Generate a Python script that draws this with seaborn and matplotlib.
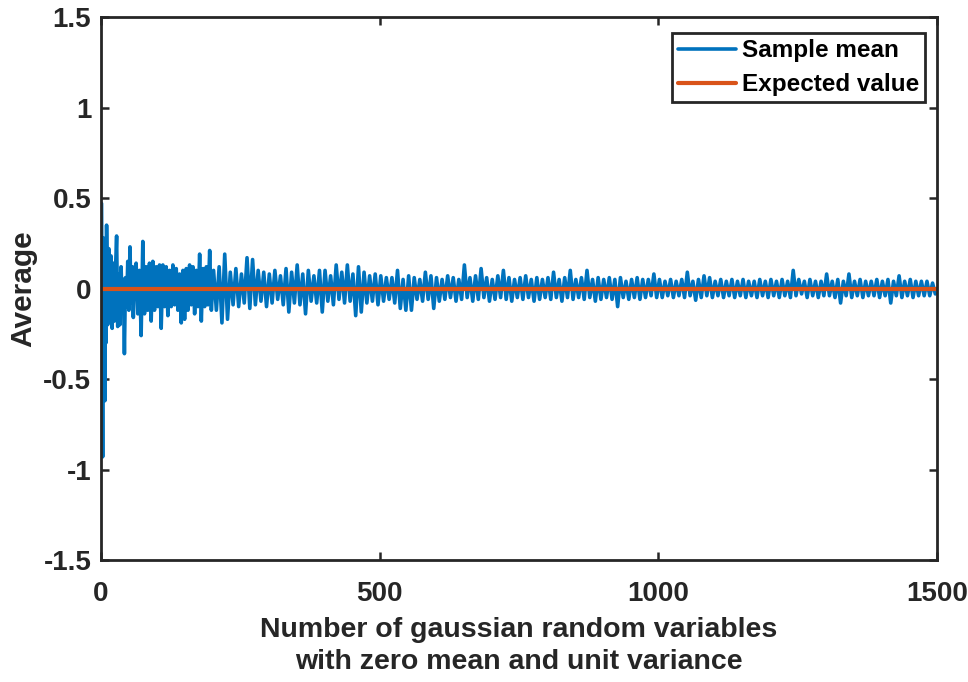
import matplotlib
import matplotlib.pyplot as plt
import numpy as np
import pandas as pd
import seaborn as sns

matplotlib.use("Agg")

# --- Datos ---
# tramo inicial: valores punto a punto
n_a = list(range(1, 11))
n_b = list(range(12, 61, 2))
mean_a = [0.47, -0.15, -0.93, 0.28, -0.55, 0.12, -0.62, 0.22, -0.30, 0.35]
mean_b = [-0.20, 0.22, -0.12, 0.18, -0.22, 0.14, -0.18, 0.10, 0.29, -0.21,
          0.08, -0.20, 0.12, -0.08, 0.05, -0.36, 0.06, -0.10, 0.15, -0.12,
          0.23, -0.08, 0.12, -0.16, 0.10]

blk_c = list(range(62, 200, 6))
top_c = [0.14, 0.10, 0.26, 0.12, 0.14, 0.15, 0.12, 0.13, 0.13, 0.12, 0.10, 0.13,
         0.11, 0.08, 0.10, 0.11, 0.13, 0.12, 0.10, 0.19, 0.11, 0.12, 0.21]
bot_c = [-0.14, -0.26, -0.14, -0.12, -0.18, -0.12, -0.10, -0.22, -0.10, -0.15,
         -0.10, -0.09, -0.12, -0.19, -0.17, -0.12, -0.09, -0.14, -0.10, -0.18,
         -0.10, -0.09, -0.12]

blk_d = list(range(200, 1500, 10))
top_d = [
    0.10, 0.12, 0.19, 0.09, 0.11, 0.08, 0.17, 0.16, 0.10, 0.09,
    0.08, 0.10, 0.07, 0.11, 0.09, 0.13, 0.08, 0.10, 0.07, 0.10,
    0.10, 0.07, 0.13, 0.09, 0.13, 0.08, 0.12, 0.09, 0.07, 0.08,
    0.07, 0.06, 0.06, 0.10, 0.05, 0.07, 0.06, 0.05, 0.09, 0.07,
    0.06, 0.05, 0.07, 0.06, 0.05, 0.13, 0.06, 0.07, 0.11, 0.06,
    0.05, 0.07, 0.10, 0.06, 0.05, 0.06, 0.07, 0.05, 0.06, 0.05,
    0.06, 0.09, 0.05, 0.06, 0.10, 0.05, 0.06, 0.10, 0.05, 0.06,
    0.05, 0.06, 0.05, 0.06, 0.04, 0.05, 0.06, 0.05, 0.05, 0.08,
    0.05, 0.04, 0.05, 0.04, 0.05, 0.09, 0.04, 0.05, 0.07, 0.06,
    0.04, 0.05, 0.04, 0.05, 0.04, 0.05, 0.04, 0.04, 0.05, 0.04,
    0.05, 0.04, 0.05, 0.04, 0.10, 0.05, 0.04, 0.05, 0.04, 0.04,
    0.08, 0.04, 0.05, 0.04, 0.08, 0.04, 0.05, 0.04, 0.04, 0.05,
    0.04, 0.05, 0.04, 0.07, 0.04, 0.05, 0.04, 0.04, 0.04, 0.03,
]
bot_d = [
    -0.12, -0.19, -0.17, -0.09, -0.10, -0.08, -0.11, -0.09, -0.07, -0.10,
    -0.08, -0.06, -0.09, -0.13, -0.08, -0.09, -0.14, -0.07, -0.08, -0.13,
    -0.07, -0.09, -0.06, -0.08, -0.07, -0.15, -0.13, -0.08, -0.07, -0.09,
    -0.07, -0.06, -0.08, -0.11, -0.12, -0.12, -0.06, -0.07, -0.06, -0.11,
    -0.07, -0.06, -0.05, -0.07, -0.06, -0.05, -0.07, -0.06, -0.05, -0.07,
    -0.06, -0.05, -0.06, -0.07, -0.05, -0.06, -0.05, -0.07, -0.06, -0.05,
    -0.06, -0.05, -0.07, -0.05, -0.06, -0.05, -0.06, -0.05, -0.07, -0.06,
    -0.05, -0.06, -0.10, -0.05, -0.06, -0.05, -0.06, -0.05, -0.04, -0.05,
    -0.05, -0.04, -0.05, -0.04, -0.05, -0.04, -0.065, -0.05, -0.04, -0.05,
    -0.04, -0.05, -0.04, -0.05, -0.04, -0.05, -0.04, -0.05, -0.04, -0.05,
    -0.04, -0.05, -0.04, -0.05, -0.04, -0.03, -0.05, -0.04, -0.05, -0.04,
    -0.04, -0.05, -0.08, -0.04, -0.05, -0.04, -0.05, -0.04, -0.04, -0.05,
    -0.04, -0.08, -0.04, -0.05, -0.04, -0.05, -0.04, -0.04, -0.04, -0.03,
]

expected_n = [1, 1500]
expected_value = [0.0, 0.0]

x_ticks = [0, 500, 1000, 1500]
y_ticks = [-1.5, -1, -0.5, 0, 0.5, 1, 1.5]
y_tick_labels = ["-1.5", "-1", "-0.5", "0", "0.5", "1", "1.5"]

BLUE = "#0072BD"
ORANGE = "#D95319"
DARK = "#262626"

sns.set_theme(style="white")
plt.rcParams.update(
    {
        "font.family": ["Liberation Sans", "DejaVu Sans"],
        "font.weight": "bold",
        "axes.labelweight": "bold",
        "axes.unicode_minus": False,
        "axes.edgecolor": DARK,
        "axes.linewidth": 2.0,
        "xtick.color": DARK,
        "ytick.color": DARK,
        "text.color": DARK,
        "axes.labelcolor": DARK,
    }
)

# maximos en el inicio del bloque, minimos a mitad de bloque
n_all = (n_a + n_b
         + [b + 1 for b in blk_c] + [b + 4 for b in blk_c]
         + [b + 2 for b in blk_d] + [b + 7 for b in blk_d])
v_all = mean_a + mean_b + top_c + bot_c + top_d + bot_d
df = pd.DataFrame({"n": n_all, "mean": v_all}).sort_values("n")

fig = plt.figure(figsize=(9.68, 6.82), dpi=100)
ax = fig.add_axes([101 / 968, 1 - 560 / 682, 836 / 968, 543 / 682])

sns.lineplot(data=df, x="n", y="mean", ax=ax, color=BLUE, linewidth=2.6,
             estimator=None, sort=True, label="Sample mean")
sns.lineplot(x=expected_n, y=expected_value, ax=ax, color=ORANGE, linewidth=3,
             estimator=None, label="Expected value")

ax.set_xlim(0, 1500)
ax.set_ylim(-1.5, 1.5)
ax.set_xticks(x_ticks)
ax.set_xticklabels([str(t) for t in x_ticks])
ax.set_yticks(y_ticks)
ax.set_yticklabels(y_tick_labels)
ax.tick_params(direction="in", length=6, width=1.8, labelsize=20,
               top=True, right=True, bottom=True, left=True)
ax.tick_params(axis="x", pad=15)
ax.tick_params(axis="y", pad=7)
for lab in ax.get_xticklabels() + ax.get_yticklabels():
    lab.set_fontweight("bold")

ax.set_xlabel("Number of gaussian random variables\nwith zero mean and unit variance",
              fontsize=20.5, fontweight="bold", labelpad=7, linespacing=1.3)
ax.set_ylabel("Average", fontsize=21.5, fontweight="bold", labelpad=4)

for sp in ax.spines.values():
    sp.set_visible(True)
    sp.set_color(DARK)
    sp.set_linewidth(2.0)

leg = ax.legend(loc="upper right", bbox_to_anchor=(925 / 968, 1 - 33 / 682),
                bbox_transform=fig.transFigure, borderaxespad=0,
                fancybox=False, framealpha=1, edgecolor=DARK,
                prop={"weight": "bold", "size": 17.5},
                handlelength=2.35, handletextpad=0.25, labelspacing=0.45,
                borderpad=0.25)
leg.get_frame().set_linewidth(2.0)
for t in leg.get_texts():
    t.set_color("black")

fig.savefig("out.png", dpi=100, facecolor="white")
plt.close(fig)
